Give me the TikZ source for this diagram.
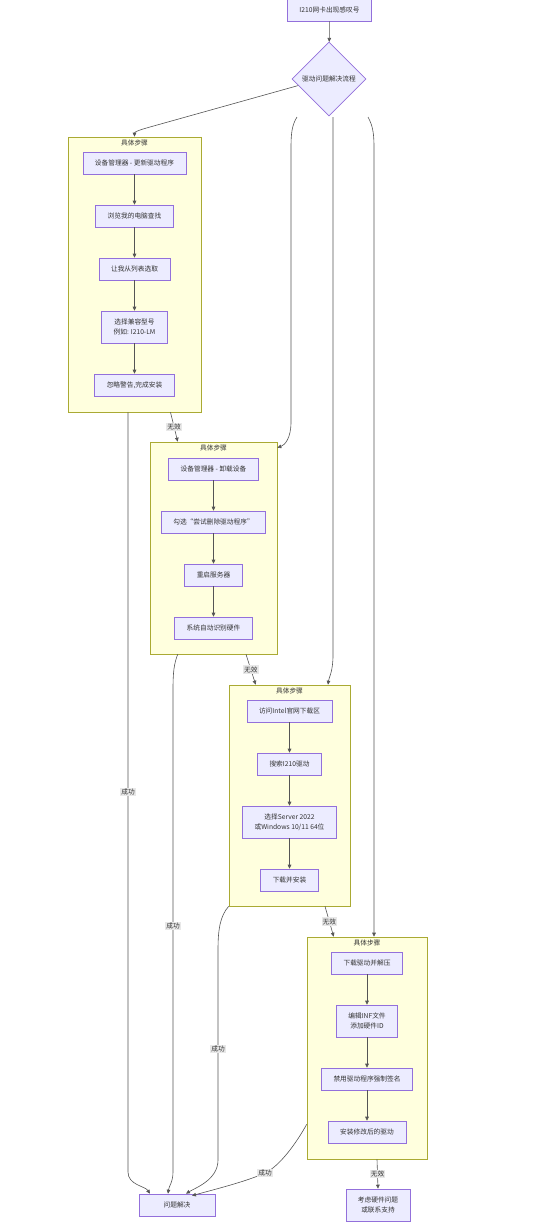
\documentclass[tikz,border=0pt]{standalone}
\usepackage{fontspec}
\setmainfont{Noto Sans CJK SC}
\usetikzlibrary{shapes.geometric,arrows.meta,calc}

\definecolor{nodefill}{HTML}{ECECFF}
\definecolor{nodeline}{HTML}{9370DB}
\definecolor{groupfill}{HTML}{FFFFDE}
\definecolor{groupline}{HTML}{AAAA33}
\definecolor{edgeline}{HTML}{555555}
\definecolor{labelfill}{HTML}{E8E8E8}
\definecolor{textcol}{HTML}{333333}

\begin{document}
\begin{tikzpicture}[x=1pt,y=-1pt,
    font=\fontsize{6.7}{10}\selectfont, text=textcol,
    stepnode/.style={draw=nodeline,fill=nodefill,line width=0.6pt,
      inner xsep=12pt,inner ysep=3pt,minimum height=22pt,align=center},
    twoline/.style={minimum height=32pt},
    decidenode/.style={diamond,draw=nodeline,fill=nodefill,line width=0.6pt,
      inner sep=0pt,minimum width=74pt,minimum height=74pt},
    groupbox/.style={draw=groupline,fill=groupfill,line width=0.6pt,inner sep=0pt},
    grouptitle/.style={anchor=north,inner sep=2.5pt},
    flowline/.style={draw=edgeline,line width=0.6pt,
      -{Triangle[length=4pt,width=3.6pt]}},
    edgelabel/.style={fill=labelfill,inner sep=1pt}]

  % Canvas: 545 x 1224 (1 unit = 1pt, y downwards)
  \useasboundingbox (0,0) rectangle (545,1224);

  %==========================
  % Start and decision
  %==========================
  \node[stepnode] (issue) at (329.5,10) {I210网卡出现感叹号};
  \node[decidenode] (decide) at (329,79) {驱动问题解决流程};

  %==========================
  % Group frames
  %==========================
  \node[groupbox,minimum width=133pt,minimum height=275pt] (g1) at (134.5,274.5) {};
  \node[groupbox,minimum width=127pt,minimum height=212pt] (g2) at (213.5,548) {};
  \node[groupbox,minimum width=121pt,minimum height=221pt] (g3) at (289.5,795.5) {};
  \node[groupbox,minimum width=120pt,minimum height=222pt] (g4) at (367,1048) {};
  \foreach \g in {g1,g2,g3,g4} {
    \node[grouptitle] at (\g.north) {具体步骤};
  }

  %==========================
  % Group 1: update driver
  %==========================
  \node[stepnode] (upd1) at (134.5,163) {设备管理器 - 更新驱动程序};
  \node[stepnode] (upd2) at (134.5,216) {浏览我的电脑查找};
  \node[stepnode] (upd3) at (134.5,269) {让我从列表选取};
  \node[stepnode,twoline] (upd4) at (134.5,327) {选择兼容型号\\例如: I210-LM};
  \node[stepnode] (upd5) at (134.5,385) {忽略警告,完成安装};

  %==========================
  % Group 2: uninstall device
  %==========================
  \node[stepnode] (uni1) at (213.5,469) {设备管理器 - 卸载设备};
  \node[stepnode] (uni2) at (213.5,522) {勾选“尝试删除驱动程序”};
  \node[stepnode] (uni3) at (213.5,575) {重启服务器};
  \node[stepnode] (uni4) at (213.5,628) {系统自动识别硬件};

  %==========================
  % Group 3: official driver
  %==========================
  \node[stepnode] (off1) at (289.5,711) {访问Intel官网下载区};
  \node[stepnode] (off2) at (289.5,764) {搜索I210驱动};
  \node[stepnode,twoline] (off3) at (289.5,822) {选择Server 2022\\或Windows 10/11 64位};
  \node[stepnode] (off4) at (289.5,880) {下载并安装};

  %==========================
  % Group 4: modified INF
  %==========================
  \node[stepnode] (inf1) at (367,963) {下载驱动并解压};
  \node[stepnode,twoline] (inf2) at (367,1021) {编辑INF文件\\添加硬件ID};
  \node[stepnode] (inf3) at (367,1079) {禁用驱动程序强制签名};
  \node[stepnode] (inf4) at (367,1132) {安装修改后的驱动};

  % Outcomes
  \node[stepnode,minimum width=76pt] (solved) at (177,1205) {问题解决};
  \node[stepnode,twoline] (hardware) at (378,1205) {考虑硬件问题\\或联系支持};

  %==========================
  % Connectors
  %==========================
  % chains inside the groups
  \foreach \a/\b in {upd1/upd2,upd2/upd3,upd3/upd4,upd4/upd5,
                     uni1/uni2,uni2/uni3,uni3/uni4,
                     off1/off2,off2/off3,off3/off4,
                     inf1/inf2,inf2/inf3,inf3/inf4} {
    \draw[flowline] (\a) -- (\b);
  }

  \draw[flowline] (issue) -- (decide);

  % decision fan-out
  \coordinate (fan2) at (297,117);
  \coordinate (fan3) at (333,117);
  \coordinate (fan4) at (368,117);
  \draw[flowline] (decide.192) -- (150,127) .. controls (139,130) and (134.5,132) .. (g1.north);
  \draw[flowline] (fan2) .. controls (292,125) and (291,133) .. (291,148) -- (291,422)
    .. controls (291,438) and (285,445) .. ($(g2.north east)+(0,6)$);
  \draw[flowline] (fan3) -- (333,655) .. controls (333,672) and (329,677) .. ($(g3.north)+(38.5,0)$);
  \draw[flowline] (fan4) .. controls (373,126) and (374,134) .. (374,148) -- ($(g4.north)+(7,0)$);

  % failed: next group
  \draw[flowline] ($(g1.south)+(36,0)$) -- node[edgelabel] {无效} ($(g2.north west)+(28,0)$);
  \draw[flowline] ($(g2.south)+(32.5,0)$) -- node[edgelabel] {无效} ($(g3.north west)+(27,0)$);
  \draw[flowline] ($(g3.south)+(35.5,0)$) -- node[edgelabel] {无效} ($(g4.north west)+(27,0)$);
  \draw[flowline] ($(g4.south)+(10,0)$) -- node[edgelabel] {无效} (hardware.north);

  % success: solved
  \draw[flowline] ($(g1.south)+(-6.5,0)$) -- node[edgelabel] {成功} (128,1172)
    .. controls (128,1185) and (145,1186) .. ($(solved.north)+(-27,0)$);
  \draw[flowline] ($(g2.south west)+(28,0)$) .. controls (174,664) and (173,672) .. (173,690)
    -- node[edgelabel,pos=0.49] {成功} (173,1172)
    .. controls (173,1182) and (169,1186) .. ($(solved.north)+(-9,0)$);
  \draw[flowline] (g3.south west) .. controls (220,916) and (218,930) .. (218,950)
    -- node[edgelabel,pos=0.47] {成功} (218,1160)
    .. controls (218,1180) and (195,1188) .. ($(solved.north)+(9,0)$);
  \draw[flowline] ($(g4.south west)+(0,-35)$) .. controls (297,1142) and (280,1166) .. (265,1173)
    node[edgelabel] {成功}
    .. controls (245,1182) and (212,1190) .. ($(solved.north)+(15,2)$);

\end{tikzpicture}
\end{document}
